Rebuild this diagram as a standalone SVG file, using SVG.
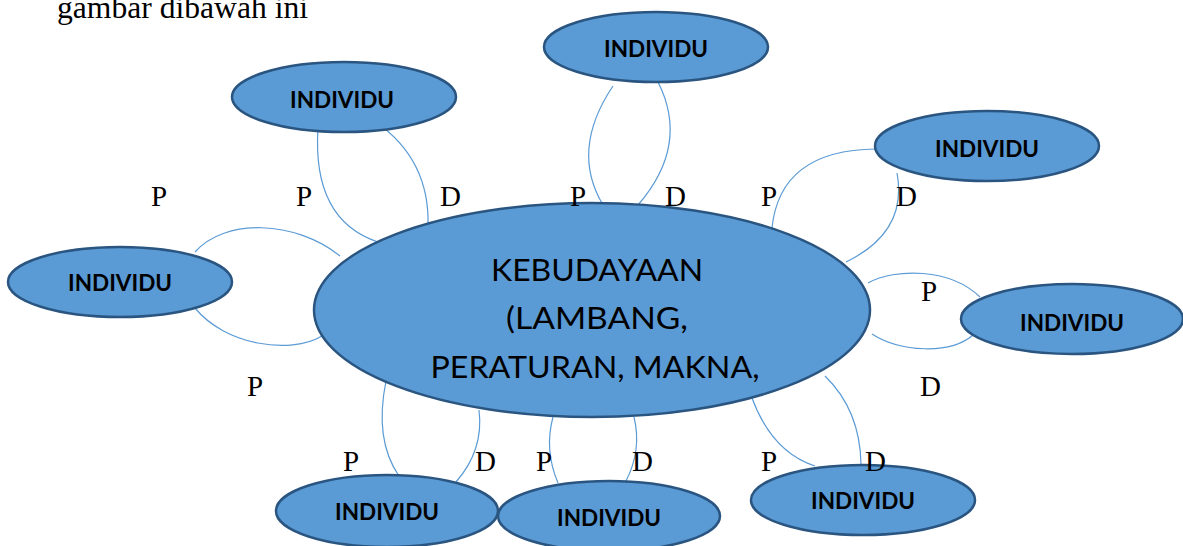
<svg xmlns="http://www.w3.org/2000/svg" width="1183" height="546" viewBox="0 0 1183 546">
<style>
.bg{fill:#ffffff}
.node{fill:#5B9BD5;stroke:#2A5580;stroke-width:2.5}
.conn{fill:none;stroke:#5B9BD5;stroke-width:1.2}
.lbl{font-family:"Liberation Serif","Times New Roman",serif;font-size:29px;fill:#000}
.hdr{font-family:"Liberation Serif","Times New Roman",serif;font-size:31.5px;fill:#000}
.ind{font-family:Lato,"Liberation Sans",sans-serif;font-weight:bold;font-size:22px;fill:#000;text-anchor:middle}
.main{font-family:Lato,"Liberation Sans",sans-serif;font-size:31px;fill:#000;text-anchor:middle}
</style>
<rect class="bg" x="0" y="0" width="1183" height="546"/>
<text class="hdr" x="57" y="18" textLength="251" lengthAdjust="spacingAndGlyphs">gambar dibawah ini</text>
<g id="connectors">
<path class="conn" d="M318,128 Q312,220 378,242"/>
<path class="conn" d="M376,122 Q430,160 428,226"/>
<path class="conn" d="M613,86 Q570,150 603,205"/>
<path class="conn" d="M658,82 Q690,145 638,205"/>
<path class="conn" d="M876,149 Q780,150 772,228"/>
<path class="conn" d="M897,173 Q908,232 846,262"/>
<path class="conn" d="M195,252 C225,218 295,220 340,256"/>
<path class="conn" d="M195,308 C225,345 290,355 322,336"/>
<path class="conn" d="M868,283 C895,268 950,268 980,297"/>
<path class="conn" d="M872,334 C900,352 950,355 973,335"/>
<path class="conn" d="M386,381 Q374,440 399,476"/>
<path class="conn" d="M479,410 Q484,450 456,482"/>
<path class="conn" d="M553,417 Q544,450 558,483"/>
<path class="conn" d="M634,417 Q642,450 626,481"/>
<path class="conn" d="M752,398 Q772,452 815,466"/>
<path class="conn" d="M825,376 Q860,410 861,464"/>
</g>
<g id="center">
<ellipse class="node" cx="592" cy="310" rx="278" ry="107"/>
<text class="main" x="597" y="281" textLength="212" lengthAdjust="spacingAndGlyphs">KEBUDAYAAN</text>
<text class="main" x="597" y="329" textLength="182" lengthAdjust="spacingAndGlyphs">(LAMBANG,</text>
<text class="main" x="595" y="378" textLength="329" lengthAdjust="spacingAndGlyphs">PERATURAN, MAKNA,</text>
</g>
<g id="n1"><ellipse class="node" cx="344" cy="97" rx="112" ry="35"/><text class="ind" x="342" y="108" textLength="104" lengthAdjust="spacingAndGlyphs">INDIVIDU</text></g>
<g id="n2"><ellipse class="node" cx="656" cy="47" rx="112" ry="35"/><text class="ind" x="656" y="57" textLength="104" lengthAdjust="spacingAndGlyphs">INDIVIDU</text></g>
<g id="n3"><ellipse class="node" cx="987" cy="146" rx="112" ry="35"/><text class="ind" x="987" y="157" textLength="104" lengthAdjust="spacingAndGlyphs">INDIVIDU</text></g>
<g id="n4"><ellipse class="node" cx="120" cy="282" rx="112" ry="35"/><text class="ind" x="120" y="291" textLength="104" lengthAdjust="spacingAndGlyphs">INDIVIDU</text></g>
<g id="n5"><ellipse class="node" cx="1072" cy="319" rx="111" ry="35"/><text class="ind" x="1072" y="331" textLength="104" lengthAdjust="spacingAndGlyphs">INDIVIDU</text></g>
<g id="n6"><ellipse class="node" cx="387" cy="511" rx="111" ry="36"/><text class="ind" x="387" y="520" textLength="104" lengthAdjust="spacingAndGlyphs">INDIVIDU</text></g>
<g id="n7"><ellipse class="node" cx="609" cy="516" rx="111" ry="35"/><text class="ind" x="609" y="526" textLength="104" lengthAdjust="spacingAndGlyphs">INDIVIDU</text></g>
<g id="n8"><ellipse class="node" cx="863" cy="500" rx="112" ry="35"/><text class="ind" x="863" y="509" textLength="104" lengthAdjust="spacingAndGlyphs">INDIVIDU</text></g>
<g id="labels">
<text class="lbl" x="151" y="206">P</text>
<text class="lbl" x="296" y="206">P</text>
<text class="lbl" x="440" y="206">D</text>
<text class="lbl" x="570" y="206">P</text>
<text class="lbl" x="665" y="206">D</text>
<text class="lbl" x="761" y="206">P</text>
<text class="lbl" x="896" y="206">D</text>
<text class="lbl" x="921" y="301">P</text>
<text class="lbl" x="247" y="396">P</text>
<text class="lbl" x="920" y="396">D</text>
<text class="lbl" x="343" y="471">P</text>
<text class="lbl" x="475" y="471">D</text>
<text class="lbl" x="536" y="471">P</text>
<text class="lbl" x="632" y="471">D</text>
<text class="lbl" x="761" y="471">P</text>
<text class="lbl" x="865" y="471">D</text>
</g>
</svg>
